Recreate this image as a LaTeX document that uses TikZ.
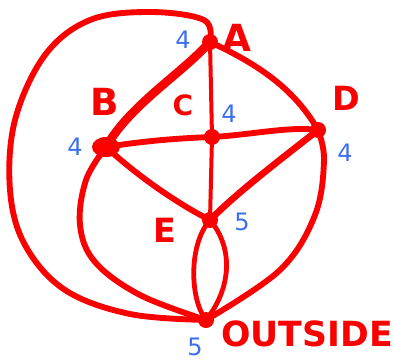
\documentclass[tikz,border=0pt]{standalone}
\usepackage{fontspec}
\setmainfont{DejaVu Sans}
\usepackage{xcolor}
\definecolor{penred}{RGB}{250,0,0}
\definecolor{penblue}{RGB}{60,110,240}

\begin{document}
\begin{tikzpicture}[x=0.75pt, y=-0.75pt, line cap=round, line join=round]
\useasboundingbox (0,0) rectangle (395,360);
\coordinate (A) at (210,42);
\coordinate (B) at (106,147);
\coordinate (C) at (212,137);
\coordinate (D) at (318,130);
\coordinate (E) at (210,220);
\coordinate (O) at (206,320);
% edges
\draw[penred, line width=6.5pt] (A) .. controls (180,75) and (130,105) .. (B);
\draw[penred, line width=3pt] (A) -- (C) -- (E);
\draw[penred, line width=4.4pt] (A) .. controls (260,65) and (295,90) .. (D);
\draw[penred, line width=4.4pt] (B) .. controls (150,140) and (185,138) .. (C);
\draw[penred, line width=4.4pt] (C) .. controls (250,135) and (290,126) .. (D);
\draw[penred, line width=4.4pt] (B) .. controls (140,178) and (180,205) .. (E);
\draw[penred, line width=5pt] (D) .. controls (280,160) and (240,190) .. (E);
\draw[penred, line width=3.6pt] (E) .. controls (188,245) and (190,300) .. (O);
\draw[penred, line width=3.6pt] (E) .. controls (235,250) and (230,290) .. (O);
\draw[penred, line width=4.4pt] plot[smooth, tension=0.6] coordinates
  {(B) (86,180) (80,225) (95,262) (140,295) (206,320)};
\draw[penred, line width=4.4pt] plot[smooth, tension=0.6] coordinates
  {(D) (324,160) (315,215) (280,270) (206,320)};
\draw[penred, line width=4.4pt] plot[smooth, tension=0.6] coordinates
  {(A) (204,20) (150,12) (90,20) (45,55) (15,120) (10,190) (25,245)
   (65,290) (130,314) (206,320)};
\foreach \p in {A,B,C,D,E,O}{
    \fill[penred] (\p) circle (8);
}
\fill[penred] (B) ellipse (14 and 10);
% labels
\node[penred, font=\bfseries\fontsize{28}{28}\selectfont] (lA) at (237,38) {A};
\node[penred, font=\bfseries\fontsize{28}{28}\selectfont] (lB) at (105,102) {B};
\node[penred, font=\bfseries\fontsize{21}{21}\selectfont] (lC) at (183,105) {C};
\node[penred, font=\bfseries\fontsize{25}{25}\selectfont] (lD) at (346,98) {D};
\node[penred, font=\bfseries\fontsize{25}{25}\selectfont] (lE) at (165,230) {E};
\node[penred, font=\bfseries\fontsize{26}{26}\selectfont] (lO) at (307,334) {OUTSIDE};
\node[penblue, font=\fontsize{18}{18}\selectfont] (nA) at (183,40) {4};
\node[penblue, font=\fontsize{18}{18}\selectfont] (nB) at (75,147) {4};
\node[penblue, font=\fontsize{18}{18}\selectfont] (nC) at (229,114) {4};
\node[penblue, font=\fontsize{18}{18}\selectfont] (nD) at (345,153) {4};
\node[penblue, font=\fontsize{18}{18}\selectfont] (nE) at (242,222) {5};
\node[penblue, font=\fontsize{18}{18}\selectfont] (nO) at (195,347) {5};
\end{tikzpicture}
\end{document}
